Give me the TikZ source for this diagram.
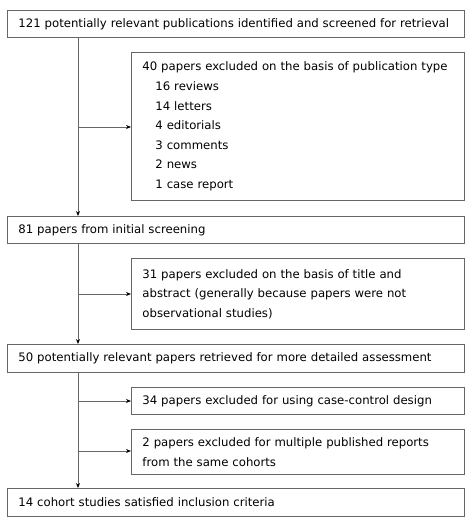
\documentclass[tikz,border=0pt]{standalone}
\usepackage{fontspec}
\setmainfont{DejaVu Sans}
\usetikzlibrary{arrows.meta}
\begin{document}
\begin{tikzpicture}[x=1pt,y=-1pt,
  box/.style={draw=black!60, line width=0.9pt, anchor=north west, align=left,
    inner xsep=11pt, inner ysep=0pt, font=\fontsize{11.7}{19.6}\selectfont, text=black},
  flow/.style={draw=black!60, line width=0.9pt},
  arr/.style={flow, -{Stealth[length=5pt,width=4pt,black]}}]
\useasboundingbox (0,0) rectangle (472,524);
\node[box, text width=435pt, minimum height=27pt] (b1) at (7,10)
  {\mbox{121 potentially relevant publications identified and screened for retrieval}};
\node[box, text width=311pt, minimum height=148pt] (b2) at (131,52)
  {\mbox{40 papers excluded on the basis of publication type}\\
   \hspace*{13pt}16 reviews\\
   \hspace*{13pt}14 letters\\
   \hspace*{13pt}4 editorials\\
   \hspace*{13pt}3 comments\\
   \hspace*{13pt}2 news\\
   \hspace*{13pt}1 case report};
\node[box, text width=435pt, minimum height=27pt] (b3) at (7,216)
  {81 papers from initial screening};
\node[box, text width=311pt, minimum height=71pt] (b4) at (131,258)
  {\mbox{31 papers excluded on the basis of title and}\\
   \mbox{abstract (generally because papers were not}\\
   observational studies)};
\node[box, text width=435pt, minimum height=28pt] (b5) at (7,344)
  {\mbox{50 potentially relevant papers retrieved for more detailed assessment}};
\node[box, text width=311pt, minimum height=27pt] (b6) at (131,387)
  {\mbox{34 papers excluded for using case-control design}};
\node[box, text width=311pt, minimum height=45pt] (b7) at (131,429)
  {\mbox{2 papers excluded for multiple published reports}\\
   from the same cohorts};
\node[box, text width=435pt, minimum height=28pt] (b8) at (7,488)
  {14 cohort studies satisfied inclusion criteria};
% vertical flow
\coordinate (t1) at (78,37);
\coordinate (t3) at (78,243);
\coordinate (t5) at (78,372);
\draw[arr] (t1) -- (b3.north -| t1);
\draw[arr] (t3) -- (b5.north -| t3);
\draw[arr] (t5) -- (b8.north -| t5);
% side branches
\coordinate (s2) at (78,127);
\coordinate (s4) at (78,294);
\coordinate (s6) at (78,401);
\coordinate (s7) at (78,451);
\draw[arr] (s2) -- (b2.west |- s2);
\draw[arr] (s4) -- (b4.west |- s4);
\draw[arr] (s6) -- (b6.west |- s6);
\draw[arr] (s7) -- (b7.west |- s7);
\end{tikzpicture}
\end{document}
